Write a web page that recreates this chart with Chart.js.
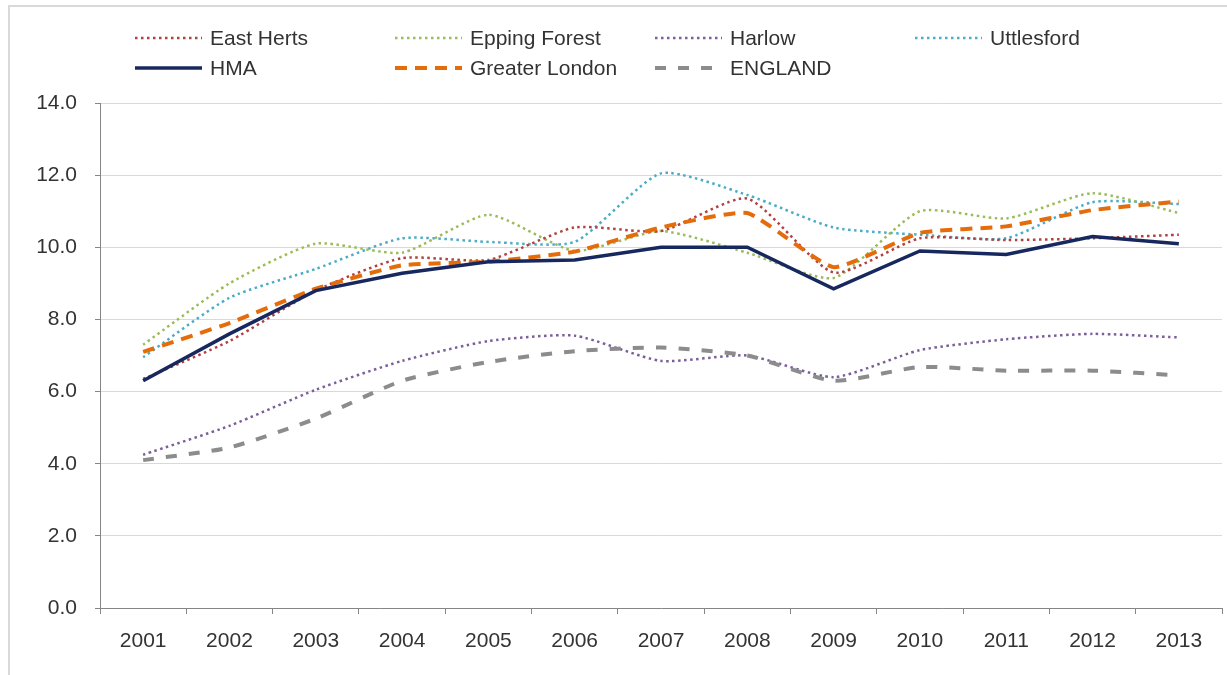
<!DOCTYPE html>
<html>
<head>
<meta charset="utf-8">
<title>HMA comparison</title>
<script src="https://cdn.jsdelivr.net/npm/chart.js"></script>
<style>
    html, body { margin: 0; padding: 0; background: #fff; }
    body { width: 1227px; height: 675px; position: relative; overflow: hidden; font-family: "Liberation Sans", Arial, sans-serif; }
    #frame { position: absolute; left: 8px; top: 5px; width: 1240px; height: 700px; border-top: 2px solid #d9d9d9; border-left: 2px solid #d9d9d9; }
    #chart { position: absolute; left: 0; top: 0; }
    .item { position: absolute; height: 24px; display: flex; align-items: center; font-size: 21px; color: #333; white-space: nowrap; }
    .item svg { margin-right: 8px; }
</style>
</head>
<body>
<div id="frame"></div>
<canvas id="chart" width="1227" height="675"></canvas>
<div id="legend"></div>
<script>
    const years = ['2001', '2002', '2003', '2004', '2005', '2006', '2007', '2008', '2009', '2010', '2011', '2012', '2013'];

    const eastHerts = [6.35, 7.4, 8.8, 9.7, 9.65, 10.55, 10.45, 11.35, 9.3, 10.25, 10.2, 10.25, 10.35];
    const eppingForest = [7.3, 9.0, 10.1, 9.85, 10.9, 9.9, 10.45, 9.85, 9.15, 11.0, 10.8, 11.5, 10.95];
    const harlow = [4.25, 5.05, 6.05, 6.85, 7.4, 7.55, 6.85, 7.0, 6.4, 7.15, 7.45, 7.6, 7.5];
    const uttlesford = [6.95, 8.6, 9.4, 10.25, 10.15, 10.15, 12.05, 11.45, 10.55, 10.35, 10.25, 11.25, 11.2];
    const hma = [6.3, 7.6, 8.8, 9.28, 9.6, 9.65, 10.0, 10.0, 8.85, 9.9, 9.8, 10.3, 10.1];
    const greaterLondon = [7.1, 7.9, 8.85, 9.5, 9.6, 9.88, 10.55, 10.95, 9.45, 10.4, 10.58, 11.03, 11.27];
    const england = [4.1, 4.45, 5.25, 6.3, 6.82, 7.12, 7.22, 7.0, 6.3, 6.68, 6.58, 6.58, 6.45];

    const yTicks = [0, 2, 4, 6, 8, 10, 12, 14];

    const dotted = [2.5, 3.5];

    // legend order is the same as the reference (two rows of four columns)
    const series = [
        { label: 'East Herts', data: eastHerts, color: '#b0413e', width: 2.5, dash: dotted, tension: 0.2, order: 2 },
        { label: 'Epping Forest', data: eppingForest, color: '#9bbb59', width: 2.5, dash: dotted, tension: 0.2, order: 2 },
        { label: 'Harlow', data: harlow, color: '#7a5f9a', width: 2.5, dash: dotted, tension: 0.2, order: 2 },
        { label: 'Uttlesford', data: uttlesford, color: '#4bacc6', width: 2.5, dash: dotted, tension: 0.2, order: 2 },
        { label: 'HMA', data: hma, color: '#17285e', width: 3.5, dash: [], tension: 0, order: 0 },
        { label: 'Greater London', data: greaterLondon, color: '#e46c0a', width: 4, dash: [12, 8], tension: 0.15, order: 1 },
        { label: 'ENGLAND', data: england, color: '#8c8c8c', width: 4, dash: [11, 12], tension: 0.2, order: 1 }
    ];

    const legend = document.getElementById('legend');
    series.forEach((s, i) => {
        const col = i < 4 ? i : i - 4;
        const row = i < 4 ? 0 : 1;
        const div = document.createElement('div');
        div.className = 'item';
        div.style.left = (135 + col * 260) + 'px';
        div.style.top = (26 + row * 30) + 'px';
        const dash = s.dash.length ? `stroke-dasharray="${s.dash.join(' ')}"` : '';
        div.innerHTML = `<svg width="67" height="10"><line x1="0" y1="5" x2="67" y2="5" stroke="${s.color}" stroke-width="${s.width}" ${dash}/></svg><span>${s.label}</span>`;
        legend.appendChild(div);
    });

    const ctx = document.getElementById('chart');

    new Chart(ctx, {
        type: 'line',
        data: {
            labels: years,
            datasets: series.map(s => ({
                label: s.label,
                data: s.data,
                borderColor: s.color,
                borderWidth: s.width,
                borderDash: s.dash,
                tension: s.tension,
                fill: false,
                pointRadius: 0,
                order: s.order
            }))
        },
        options: {
            responsive: false,
            devicePixelRatio: 1,
            animation: false,
            layout: { padding: { top: 103, right: 5, left: 0, bottom: 0 } },
            plugins: {
                legend: { display: false },
                tooltip: { enabled: false }
            },
            scales: {
                x: {
                    offset: true,
                    afterFit: scale => { scale.height = 67; },
                    grid: { offset: true, drawOnChartArea: false, tickLength: 6, tickColor: '#868686' },
                    border: { color: '#868686', width: 1 },
                    ticks: {
                        padding: 15,
                        color: '#333',
                        font: { family: '"Liberation Sans", Arial, sans-serif', size: 21 }
                    }
                },
                y: {
                    min: 0,
                    max: 14,
                    afterFit: scale => { scale.width = 100; },
                    afterBuildTicks: scale => { scale.ticks = yTicks.map(v => ({ value: v })); },
                    grid: { color: '#d9d9d9', tickLength: 5, tickColor: '#868686' },
                    border: { color: '#868686', width: 1 },
                    ticks: {
                        padding: 18,
                        color: '#333',
                        callback: v => v.toFixed(1),
                        font: { family: '"Liberation Sans", Arial, sans-serif', size: 21 }
                    }
                }
            }
        }
    });
</script>
</body>
</html>
